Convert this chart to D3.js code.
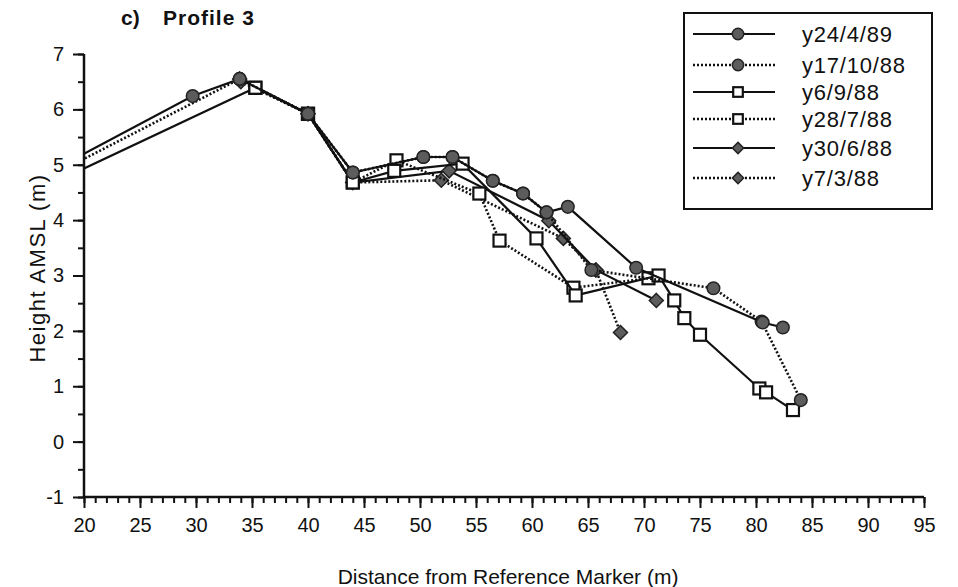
<!DOCTYPE html>
<html>
<head>
<meta charset="utf-8">
<script src="https://cdn.jsdelivr.net/npm/d3@7/dist/d3.min.js"></script>
<style>
  html, body { margin: 0; padding: 0; background: #fff; }
  svg { display: block; }
  text { font-family: "Liberation Sans", Arial, Helvetica, sans-serif; fill: #111; }
</style>
</head>
<body>
<svg id="chart" width="958" height="587"></svg>
<script>
// ---- data ----
const seriesNames = ["y24/4/89", "y17/10/88", "y6/9/88", "y28/7/88", "y30/6/88", "y7/3/88"];
const seriesDash = ["solid", "dotted", "solid", "dotted", "solid", "dotted"];
const seriesMarker = ["circle", "circle", "square", "square", "diamond", "diamond"];

// points: [distance (m), height (m)]; first points lie left of the axis and are clipped
const s24_4_89 = [[18.5,5.04],[29.7,6.24],[33.9,6.55],[40.0,5.92],[44.0,4.86],[50.3,5.14],[52.9,5.14],[56.5,4.71],[59.2,4.48],[61.3,4.14],[63.2,4.24],[69.3,3.14],[80.6,2.15],[82.4,2.06]];
const s17_10_88 = [[18.5,4.95],[33.9,6.55],[40.0,5.92],[44.0,4.86],[50.3,5.14],[52.9,5.14],[56.5,4.71],[59.2,4.48],[61.3,4.14],[65.3,3.10],[76.2,2.77],[80.5,2.17],[84.0,0.75]];
const s6_9_88 = [[18.5,4.79],[35.3,6.39],[40.0,5.92],[44.0,4.68],[47.7,4.89],[53.8,5.02],[60.4,3.67],[63.9,2.64],[71.3,3.00],[72.7,2.55],[73.6,2.23],[75.0,1.93],[80.3,0.96],[80.9,0.89],[83.3,0.57]];
const s28_7_88 = [[35.3,6.39],[40.0,5.92],[44.0,4.68],[47.9,5.08],[55.3,4.48],[57.1,3.63],[63.7,2.78],[70.4,2.95]];
const s30_6_88 = [[33.9,6.55],[40.0,5.92],[44.0,4.68],[52.6,4.89],[61.5,3.99],[65.7,3.10],[71.1,2.55]];
const s7_3_88 = [[34.0,6.50],[40.0,5.92],[44.0,4.68],[51.9,4.72],[62.8,3.67],[65.7,3.10],[67.9,1.97]];
const seriesValues = [s24_4_89, s17_10_88, s6_9_88, s28_7_88, s30_6_88, s7_3_88];

const xDomain = [20, 95];
const yDomain = [-1, 7];
const xTickValues = [20, 25, 30, 35, 40, 45, 50, 55, 60, 65, 70, 75, 80, 85, 90, 95];
const yTickValues = [-1, 0, 1, 2, 3, 4, 5, 6, 7];

const titleLetter = "c)";
const titleText = "Profile 3";
const xTitle = "Distance from Reference Marker (m)";
const yTitle = "Height AMSL (m)";

// ---- layout ----
const svg = d3.select("#chart");
const mLeft = 84, mRight = 924, mTop = 54, mBottom = 497;
const x = d3.scaleLinear().domain(xDomain).range([mLeft, mRight]);
const y = d3.scaleLinear().domain(yDomain).range([mBottom, mTop]);

const markerFill = "#5c5c5c";
const ink = "#111";

svg.append("defs").append("clipPath").attr("id", "plotclip")
  .append("rect").attr("x", mLeft).attr("y", 0).attr("width", 958 - mLeft).attr("height", mBottom);

// axes
const xMinor = d3.range(20, 96, 1);
const yMinor = d3.range(-1, 7.01, 0.5);
const fmt = d => String(d);

const xAxisMinor = d3.axisBottom(x).tickValues(xMinor).tickSize(6).tickFormat("");
const xAxisMajor = d3.axisBottom(x).tickValues(xTickValues).tickSize(11).tickPadding(10).tickFormat(fmt);
const yAxisMinor = d3.axisLeft(y).tickValues(yMinor).tickSize(6).tickFormat("");
const yAxisMajor = d3.axisLeft(y).tickValues(yTickValues).tickSize(11).tickPadding(9).tickFormat(fmt);

function styleAxis(g) {
  g.select(".domain").remove();
  g.selectAll(".tick line").attr("stroke", ink).attr("stroke-width", 2);
  g.selectAll(".tick text").attr("fill", ink).style("font-size", "20px")
    .style("font-family", "'Liberation Sans', Arial, sans-serif");
}
svg.append("g").attr("transform", `translate(0,${mBottom})`).call(xAxisMinor).call(styleAxis);
svg.append("g").attr("transform", `translate(0,${mBottom})`).call(xAxisMajor).call(styleAxis);
svg.append("g").attr("transform", `translate(${mLeft},0)`).call(yAxisMinor).call(styleAxis);
svg.append("g").attr("transform", `translate(${mLeft},0)`).call(yAxisMajor).call(styleAxis);

svg.append("line").attr("x1", x(20)).attr("x2", x(95)).attr("y1", y(-1)).attr("y2", y(-1))
  .attr("stroke", ink).attr("stroke-width", 2.5);
svg.append("line").attr("x1", x(20)).attr("x2", x(20)).attr("y1", y(-1)).attr("y2", y(7))
  .attr("stroke", ink).attr("stroke-width", 2.5);

// titles
const t = svg.append("text").attr("y", 25).style("font-size", "21px").style("font-weight", "bold");
t.append("tspan").attr("x", 121).text(titleLetter);
t.append("tspan").attr("x", 163).style("letter-spacing", "1px").text(titleText);

svg.append("text").attr("x", 508).attr("y", 584).attr("text-anchor", "middle")
  .style("font-size", "21px").text(xTitle);
svg.append("text").attr("transform", `translate(45,268) rotate(-90)`)
  .attr("text-anchor", "middle").style("font-size", "22px").style("letter-spacing", "1.5px").text(yTitle);

// markers
function drawMarker(g, type, cx, cy, scale) {
  const s = scale || 1;
  if (type === "circle") {
    g.append("circle").attr("cx", cx).attr("cy", cy).attr("r", 6.3 * s)
      .attr("fill", markerFill).attr("stroke", "#222").attr("stroke-width", 1.5);
  } else if (type === "square") {
    const h = 6 * s;
    g.append("rect").attr("x", cx - h).attr("y", cy - h).attr("width", 2 * h).attr("height", 2 * h)
      .attr("fill", "#fff").attr("stroke", ink).attr("stroke-width", 2.2);
  } else {
    const h = 7 * s;
    g.append("path").attr("d", `M${cx},${cy - h}L${cx + h},${cy}L${cx},${cy + h}L${cx - h},${cy}Z`)
      .attr("fill", markerFill).attr("stroke", "#222").attr("stroke-width", 1.5);
  }
}

const line = d3.line().x(d => x(d[0])).y(d => y(d[1]));
const plot = svg.append("g").attr("clip-path", "url(#plotclip)");

// draw in reverse order so the first series is on top
for (let i = seriesValues.length - 1; i >= 0; i--) {
  const g = plot.append("g");
  g.append("path").datum(seriesValues[i]).attr("d", line)
    .attr("fill", "none").attr("stroke", ink)
    .attr("stroke-width", seriesDash[i] === "solid" ? 2.2 : 2.6)
    .attr("stroke-dasharray", seriesDash[i] === "solid" ? null : "2,2");
  seriesValues[i].forEach(d => drawMarker(g, seriesMarker[i], x(d[0]), y(d[1])));
}

// legend
const lg = svg.append("g");
lg.append("rect").attr("x", 684).attr("y", 13).attr("width", 248).attr("height", 196)
  .attr("fill", "#fff").attr("stroke", ink).attr("stroke-width", 2);
const rowY = [34, 65, 92, 119, 148, 178];
seriesNames.forEach((name, i) => {
  const ry = rowY[i];
  lg.append("line").attr("x1", 693).attr("x2", 775).attr("y1", ry).attr("y2", ry)
    .attr("stroke", ink).attr("stroke-width", seriesDash[i] === "solid" ? 2.2 : 2.6)
    .attr("stroke-dasharray", seriesDash[i] === "solid" ? null : "2,2");
  drawMarker(lg, seriesMarker[i], 738, ry, seriesMarker[i] === "circle" ? 0.9 : 0.8);
  lg.append("text").attr("x", 802).attr("y", ry + 8).style("font-size", "22px")
    .style("letter-spacing", "0.8px").text(name);
});
</script>
</body>
</html>
